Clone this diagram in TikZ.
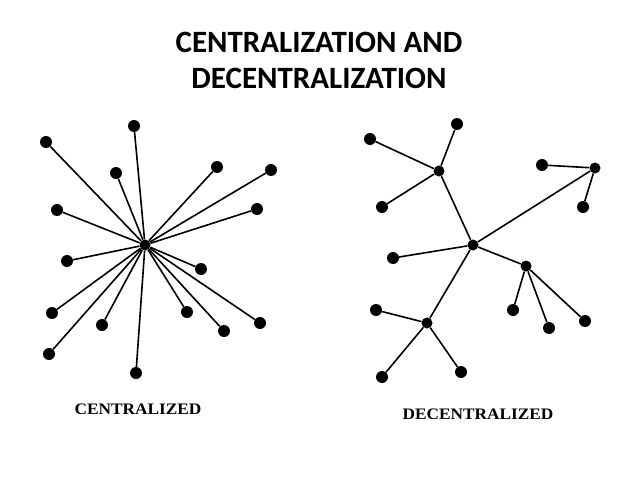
\documentclass[tikz,border=0pt]{standalone}
\usepackage{fontspec}
\setmainfont{Liberation Serif}
\newfontfamily\titlefont{Carlito}
\begin{document}
\begin{tikzpicture}[x=1pt,y=-1pt,
  dot/.style={circle,fill=black,inner sep=0pt,minimum size=12pt},
  hub/.style={circle,fill=black,inner sep=0pt,minimum size=11pt},
  link/.style={line width=1.6pt,black},
  lbl/.style={font=\fontsize{16}{16}\selectfont\bfseries, xscale=1.08},
  ttl/.style={font=\titlefont\fontsize{31}{36}\selectfont\bfseries, align=center}]
\fill[white] (0,0) rectangle (638,479);
\useasboundingbox (0,0) rectangle (638,479);
\node[ttl] (title) at (319,60) {CENTRALIZATION AND\\DECENTRALIZATION};
% centralized
\node[hub] (c) at (145,245) {};
\foreach \n/\x/\y in {c1/46/142, c2/134/126, c3/116/173, c4/217/167, c5/271/170, c6/257/209, c7/57/210, c8/67/261, c9/201/269, c10/52/313, c11/102/325, c12/187/312, c13/224/331, c14/260/323, c15/49/354, c16/136/373}{
  \node[dot] (\n) at (\x,\y) {};
  \draw[link] (c) -- (\n);
}
\node[lbl] (lc) at (138,409) {CENTRALIZED};
% decentralized
\node[hub] (m) at (473,245) {};
\node[hub] (a) at (439,171) {};
\node[hub] (r) at (595,168) {};
\node[hub] (b) at (526,266) {};
\node[hub] (d) at (427,323) {};
\draw[link] (m) -- (a);
\draw[link] (m) -- (r);
\draw[link] (m) -- (b);
\draw[link] (m) -- (d);
\node[dot] (m1) at (393,258) {};
\draw[link] (m) -- (m1);
\foreach \n/\x/\y in {a1/370/139, a2/457/124, a3/382/207}{
  \node[dot] (\n) at (\x,\y) {};
  \draw[link] (a) -- (\n);
}
\foreach \n/\x/\y in {r1/542/165, r2/583/207}{
  \node[dot] (\n) at (\x,\y) {};
  \draw[link] (r) -- (\n);
}
\foreach \n/\x/\y in {b1/513/310, b2/549/328, b3/585/321}{
  \node[dot] (\n) at (\x,\y) {};
  \draw[link] (b) -- (\n);
}
\foreach \n/\x/\y in {d1/376/310, d2/382/377, d3/461/372}{
  \node[dot] (\n) at (\x,\y) {};
  \draw[link] (d) -- (\n);
}
\node[lbl] (ld) at (478,414) {DECENTRALIZED};
\end{tikzpicture}
\end{document}
